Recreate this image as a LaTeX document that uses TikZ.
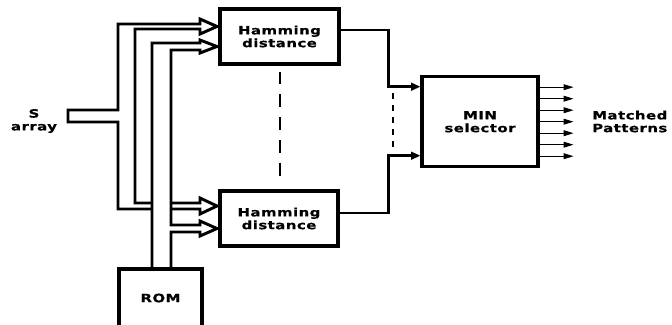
\documentclass[tikz,border=0pt]{standalone}
\usepackage{fontspec}
\newfontfamily\labfont[LetterSpace=4,FakeStretch=1.3,FakeBold=0.6]{DejaVu Sans Bold}
\usetikzlibrary{arrows.meta}
\tikzset{
  lab/.style={align=center,inner sep=0pt,font={\labfont\fontsize{9.8}{10.9}\selectfont}},
  blk/.style={lab,draw,line width=2.6pt},
  bus/.style={line width=2.5pt},
  dashline/.style={line width=1.1pt,dash pattern=on 11pt off 8.5pt},
  outarrow/.style={line width=0.9pt,-{Triangle[length=8.5pt,width=5pt]}}
}
\begin{document}
\begin{tikzpicture}[x=0.03cm,y=-0.03cm]
\useasboundingbox (0,0) rectangle (672,324);
\fill[white] (0,0) rectangle (672,324);
% blocks
\node[blk,minimum width=3.57cm,minimum height=1.65cm] (hamTop) at (279.5,36.5) {Hamming\\distance};
\node[blk,minimum width=3.54cm,minimum height=1.65cm] (hamBot) at (279,218.5) {Hamming\\distance};
\node[blk,minimum width=3.48cm,minimum height=2.7cm] (minSel) at (480,121.7) {MIN\\selector};
\node[lab] (sArr) at (34,121) {S\\array};
\node[lab,anchor=west,align=left] (match) at (592,121.5) {Matched\\Patterns};
% S bus
\draw[bus] (200,29) -- (135,29) -- (135,203) -- (200,203) -- (200,198) -- (217,206)
  -- (200,214) -- (200,209) -- (118,209) -- (118,122) -- (68,122) -- (68,110)
  -- (118,110) -- (118,24) -- (200,24) -- (200,19) -- (217,26.5) -- (200,34) -- cycle;
% ROM bus
\draw[bus,fill=white] (152,269) -- (152,43) -- (200,43) -- (200,40) -- (217,46.5)
  -- (200,53) -- (200,50) -- (171,50) -- (171,225) -- (200,225) -- (200,221)
  -- (217,228.5) -- (200,236) -- (200,232) -- (171,232) -- (171,269);
\node[blk,minimum width=2.49cm,minimum height=1.74cm] (rom) at (160.5,298) {ROM};
% to the MIN selector
\coordinate (outT) at (388.5,30);
\coordinate (outB) at (388.5,213);
\coordinate (inT) at (388.5,86.7);
\coordinate (inB) at (388.5,155.7);
\draw[bus,-{Triangle[length=8pt,width=6.5pt]}] (hamTop.east |- outT) -- (outT) -- (inT) -- (minSel.west |- inT);
\draw[bus,-{Triangle[length=8pt,width=6.5pt]}] (hamBot.east |- outB) -- (outB) -- (inB) -- (minSel.west |- inB);
\draw[dashline] (hamTop.south) ++(0.5,6) -- ++(0,112);
\draw[dashline,dash pattern=on 5.1pt off 5.1pt] (inT) ++(4.5,6.3) -- ++(0,55);
% outputs
\foreach \k in {-3,...,3}
  \draw[outarrow] (minSel.east) ++(0,\k*11.5) -- ++(34,0);
\end{tikzpicture}
\end{document}
